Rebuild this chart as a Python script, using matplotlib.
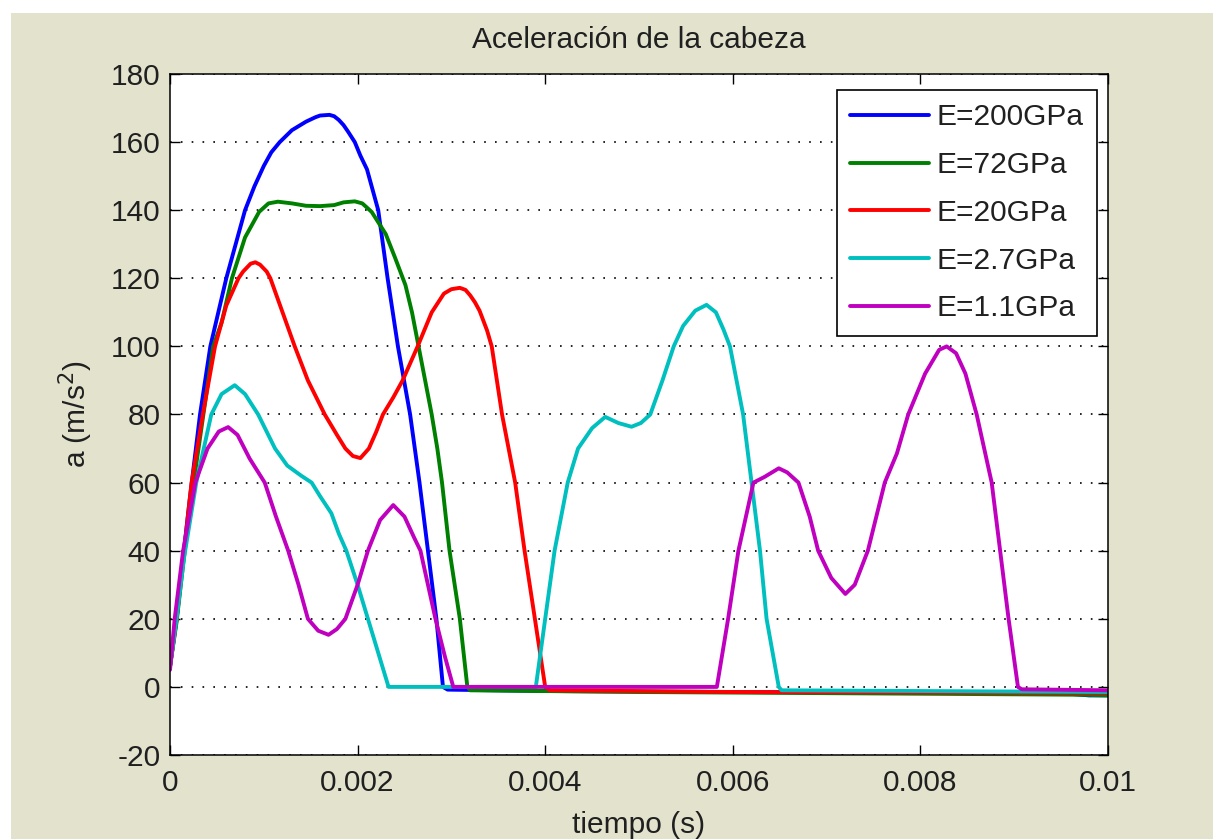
import matplotlib
matplotlib.use("Agg")
import matplotlib.pyplot as plt
from matplotlib.patches import Rectangle
import numpy as np

# Head acceleration for five stiffness values (time in ms, acceleration in m/s^2)
labels = ["E=200GPa", "E=72GPa", "E=20GPa", "E=2.7GPa", "E=1.1GPa"]
colors = ["#0000ff", "#008000", "#ff0000", "#00bfbf", "#bf00bf"]

t_200 = [0, 0.07, 0.14, 0.21, 0.32, 0.43, 0.60, 0.80, 0.9, 1.0, 1.08, 1.17, 1.3, 1.45,
         1.55, 1.6, 1.7, 1.75, 1.8, 1.85, 1.9, 1.97, 2.03, 2.1, 2.16, 2.22, 2.32, 2.43,
         2.56, 2.66, 2.75, 2.84, 2.91, 2.96, 4.0, 6.0, 9.5, 9.8, 10.0]
a_200 = [6, 20, 38, 55, 80, 100, 120, 140, 147, 153, 157, 160, 163.5, 166,
         167.3, 167.8, 168, 167.6, 166.5, 165, 163, 160, 156, 152, 146, 140, 120, 100,
         80, 60, 40, 20, 0, -0.8, -1.2, -1.5, -1.8, -2.5, -2.5]

t_72 = [0, 0.07, 0.14, 0.21, 0.33, 0.46, 0.55, 0.66, 0.8, 0.95, 1.05, 1.15, 1.3, 1.45,
        1.6, 1.75, 1.85, 1.97, 2.05, 2.15, 2.3, 2.4, 2.51, 2.58, 2.65, 2.72, 2.79,
        2.85, 2.90, 2.98, 3.09, 3.17, 3.2, 5.0, 8.0, 9.7, 10.0]
a_72 = [6, 19, 36, 52, 75, 100, 107, 120, 132, 139.5, 142, 142.5, 142, 141.3,
        141.2, 141.5, 142.3, 142.6, 142, 139.5, 133, 126, 118, 110, 100, 90, 80,
        70, 60, 40, 20, 0, -1, -1.5, -2, -2.3, -2.5]

t_20 = [0, 0.07, 0.15, 0.23, 0.35, 0.48, 0.6, 0.73, 0.78, 0.86, 0.91, 0.96, 1.03, 1.07,
        1.2, 1.33, 1.47, 1.65, 1.78, 1.87, 1.95, 2.03, 2.12, 2.2, 2.27, 2.38, 2.48,
        2.64, 2.79, 2.92, 3.0, 3.09, 3.15, 3.2, 3.25, 3.30, 3.38, 3.43, 3.54, 3.68,
        3.78, 3.89, 4.0, 4.05, 6.0, 10.0]
a_20 = [6, 20, 40, 60, 80, 100, 112, 120, 122, 124.3, 124.7, 124, 122, 120,
        110, 100, 90, 80, 74, 70, 67.8, 67.2, 70, 75, 80, 85, 90,
        100, 110, 115.5, 116.8, 117.2, 116.6, 115, 113, 110.5, 104.7, 100, 80, 60,
        40, 20, 0, -1, -1.5, -1.8]

t_27 = [0, 0.07, 0.15, 0.28, 0.44, 0.55, 0.69, 0.8, 0.94, 1.03, 1.12, 1.25, 1.4, 1.51,
        1.6, 1.72, 1.8, 1.88, 2.0, 2.11, 2.22, 2.33, 3.9, 4.0, 4.10, 4.24, 4.35, 4.5,
        4.64, 4.78, 4.92, 5.02, 5.12, 5.25, 5.37, 5.47, 5.6, 5.72, 5.82, 5.9, 5.97,
        6.11, 6.20, 6.29, 6.36, 6.49, 6.52, 10.0]
a_27 = [6, 20, 38, 60, 80, 86, 88.6, 86, 80, 75, 70, 65, 62, 60,
        56, 51, 45, 40, 30, 20, 10, 0, 0, 20, 40, 60, 70, 76,
        79.3, 77.5, 76.4, 77.5, 80, 90, 100, 106, 110.5, 112.2, 110, 105, 100,
        80, 60, 40, 20, 0, -1, -1.5]

t_11 = [0, 0.05, 0.14, 0.27, 0.4, 0.52, 0.62, 0.72, 0.85, 1.01, 1.13, 1.26, 1.37, 1.47,
        1.58, 1.69, 1.78, 1.87, 2.0, 2.11, 2.24, 2.38, 2.5, 2.6, 2.67, 2.75, 2.83,
        2.93, 3.02, 5.83, 5.95, 6.06, 6.22, 6.34, 6.49, 6.58, 6.70, 6.82, 6.91, 7.05,
        7.2, 7.3, 7.44, 7.62, 7.75, 7.87, 8.05, 8.2, 8.28, 8.38, 8.48, 8.60, 8.76,
        8.85, 8.94, 9.04, 9.08, 10.0]
a_11 = [5, 20, 40, 60, 70, 75, 76.3, 74, 67, 60, 50, 40, 30, 20,
        16.5, 15.3, 17, 20, 30, 40, 49, 53.4, 50, 44, 40, 30, 20,
        9, 0, 0, 20, 40, 60, 61.7, 64.2, 63, 60, 50, 40, 32,
        27.3, 30, 40, 60, 68.6, 80, 92, 99, 100, 98, 92, 80, 60,
        40, 20, 0, -0.7, -1]

series = [(t_200, a_200), (t_72, a_72), (t_20, a_20), (t_27, a_27), (t_11, a_11)]

x_ticks = [0, 0.002, 0.004, 0.006, 0.008, 0.01]
x_ticklabels = ["0", "0.002", "0.004", "0.006", "0.008", "0.01"]
y_ticks = list(range(-20, 181, 20))

W, H = 1213, 839
plt.rcParams["font.family"] = ["Liberation Sans", "DejaVu Sans"]
plt.rcParams["axes.unicode_minus"] = False
txt = "#202020"
fs = 21.5

fig = plt.figure(figsize=(W / 100, H / 100), dpi=100, facecolor="white")
fig.patches.append(Rectangle((11 / W, 0), 1, 1 - 13 / H, transform=fig.transFigure,
                             facecolor="#e3e2cd", edgecolor="none", zorder=-10))

ax = fig.add_axes([170 / W, 1 - 755 / H, 938 / W, 681 / H])
ax.set_facecolor("white")

for (t, a), c, lab in zip(series, colors, labels):
    ax.plot(np.array(t) * 1e-3, a, color=c, lw=2.8, label=lab,
            solid_joinstyle="round", solid_capstyle="round")

ax.set_xlim(0, 0.01)
ax.set_ylim(-20, 180)
ax.set_xticks(x_ticks)
ax.set_xticklabels(x_ticklabels)
ax.set_yticks(y_ticks)
ax.tick_params(direction="in", length=7, width=1, top=True, right=True,
               labelsize=fs, colors="black", labelcolor=txt)
ax.tick_params(axis="x", pad=10)
ax.tick_params(axis="y", pad=7)
for s in ax.spines.values():
    s.set_linewidth(1.1)
    s.set_color("black")

ax.yaxis.grid(True, color="black", lw=1.2, linestyle=(0, (1, 5.5)))
ax.set_axisbelow(True)

ax.set_title("Aceleración de la cabeza", fontsize=fs, color=txt, pad=19)
ax.set_xlabel("tiempo (s)", fontsize=fs, color=txt, labelpad=10)
ax.set_ylabel("a (m/s$^2$)", fontsize=fs, color=txt, labelpad=11)

leg = ax.legend(loc="upper right", bbox_to_anchor=(1097 / W, 1 - 90 / H),
                bbox_transform=fig.transFigure, borderaxespad=0, fontsize=fs,
                frameon=True, fancybox=False, edgecolor="black", framealpha=1,
                handlelength=2.65, handletextpad=0.25, labelspacing=0.66,
                borderpad=0.45)
leg.get_frame().set_linewidth(1.2)
for t in leg.get_texts():
    t.set_color(txt)

fig.savefig("out.png", dpi=100, facecolor=fig.get_facecolor())
